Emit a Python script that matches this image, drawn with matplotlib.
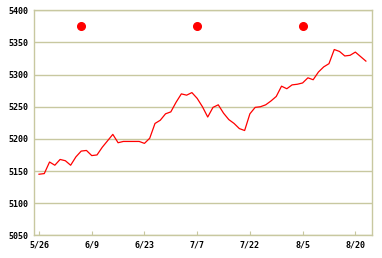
#!/usr/bin/env python3
# -*- coding: utf-8 -*-

import matplotlib
matplotlib.use("Agg")
import matplotlib.pyplot as plt

# Data: one value per trading day, ticks every 10 days
values = [
    5145, 5146, 5164, 5159, 5168, 5166, 5159, 5172, 5181, 5182,
    5174, 5175, 5187, 5197, 5207, 5194, 5196, 5196, 5196, 5196,
    5193, 5201, 5224, 5229, 5239, 5242, 5257, 5270, 5268, 5272,
    5263, 5250, 5234, 5249, 5253, 5240, 5230, 5224, 5216, 5213,
    5239, 5249, 5250, 5253, 5259, 5266, 5282, 5278, 5284, 5285,
    5287, 5295, 5292, 5304, 5312, 5317, 5339, 5336, 5329, 5330,
    5335, 5328, 5321,
]
tick_index = [0, 10, 20, 30, 40, 50, 60]
tick_labels = ["5/26", "6/9", "6/23", "7/7", "7/22", "8/5", "8/20"]
marker_index = [8, 30, 50]
marker_values = [5375, 5375, 5375]
y_ticks = [5050, 5100, 5150, 5200, 5250, 5300, 5350, 5400]

frame_color = "#c8c8a0"

fig = plt.figure(figsize=(3.82, 2.58), dpi=100)
ax = fig.add_axes([0.089, 0.088, 0.884, 0.872])

ax.plot(range(len(values)), values, color="red", linewidth=0.9)
ax.plot(marker_index, marker_values, "o", color="red", markersize=5.5,
        linestyle="none")

ax.set_xlim(-0.95, 63.1)
ax.set_ylim(5050, 5400)
ax.set_yticks(y_ticks)
ax.set_xticks(tick_index)
ax.set_xticklabels(tick_labels)

ax.grid(axis="y", color=frame_color, linewidth=1.0)
ax.set_axisbelow(True)
for spine in ax.spines.values():
    spine.set_color(frame_color)
    spine.set_linewidth(1.0)

ax.tick_params(axis="x", direction="in", length=3, color=frame_color,
               pad=4, labelsize=6)
ax.tick_params(axis="y", length=0, pad=4, labelsize=6)
for label in ax.get_xticklabels() + ax.get_yticklabels():
    label.set_family("DejaVu Sans Mono")
    label.set_weight("bold")
    label.set_color("black")

fig.savefig("out.png", dpi=100)
plt.close(fig)
